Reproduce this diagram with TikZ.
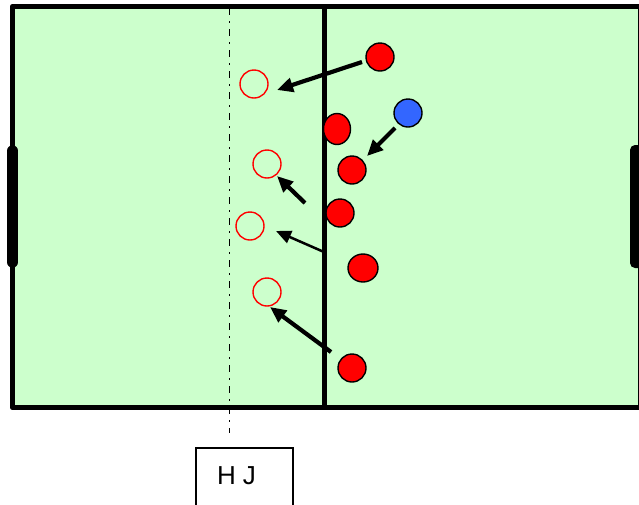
\documentclass[tikz,border=0pt]{standalone}
\usepackage{fontspec}
\setmainfont{Liberation Sans}
\usetikzlibrary{arrows.meta,shapes.geometric}
\definecolor{fieldgreen}{HTML}{CCFFCC}
\definecolor{pred}{HTML}{FF0000}
\definecolor{pblue}{HTML}{3366FF}
\tikzset{
  player/.style={circle, draw=black, line width=1.4pt, fill=pred, minimum size=28pt, inner sep=0pt},
  blueplayer/.style={player, fill=pblue},
  ghost/.style={circle, draw=pred, line width=1.4pt, minimum size=28pt, inner sep=0pt},
  move/.style={line width=4.2pt, -{Triangle[length=16pt,width=14pt]}},
  thinmove/.style={line width=2.5pt, -{Triangle[length=15pt,width=13pt]}},
  borderline/.style={line width=5.7pt},
}
\begin{document}
\begin{tikzpicture}[x=1pt,y=-1pt]
\useasboundingbox (0,0) rectangle (639,504);
\clip (0,0) rectangle (639,504);
% field
\draw[borderline, fill=fieldgreen, line join=round] (12.5,6.5) rectangle (641,407.5);
% goals
\draw[line width=11.5pt, line cap=round] (12.5,151) -- (12.5,262);
\fill[rounded corners=5pt] (630,145) rectangle (660,268);
% dash-dot line
\draw[line width=1.5pt, dash pattern=on 7pt off 6pt on 1.5pt off 6.5pt] (229.5,8) -- (229.5,433);
% midline
\draw[borderline] (324.5,6.5) -- (324.5,407.5);
% HJ box
\node[draw, line width=1.3pt, minimum width=97pt, minimum height=62pt, inner sep=0pt] (hj) at (244.5,479) {};
\node[inner sep=0pt, font=\fontsize{26}{30}\selectfont] (hjtext) at (236.5,476) {H J};
% open circles
\node[ghost] (o1) at (254,84) {};
\node[ghost] (o2) at (267,164) {};
\node[ghost] (o3) at (250,226) {};
\node[ghost] (o4) at (267,292) {};
% players
\node[player] (r1) at (380,57) {};
\node[blueplayer] (b1) at (408,113) {};
\node[player, ellipse, minimum width=27pt, minimum height=31pt] (r2) at (337,129) {};
\node[player] (r3) at (352,170) {};
\node[player] (r4) at (340,213) {};
\node[player, ellipse, minimum width=30pt, minimum height=28pt] (r5) at (363,268) {};
\node[player] (r6) at (352,368) {};
% arrow ends
\coordinate (a1s) at (362,62);
\coordinate (a1e) at (277,90);
\coordinate (a2s) at (395,128);
\coordinate (a2e) at (367,156);
\coordinate (a3s) at (305,203);
\coordinate (a3e) at (277,176);
\coordinate (a4s) at (324,252);
\coordinate (a4e) at (276,231);
\coordinate (a5s) at (331,352);
\coordinate (a5e) at (270,307);
\draw[move] (a1s) -- (a1e);
\draw[move] (a2s) -- (a2e);
\draw[move] (a3s) -- (a3e);
\draw[thinmove] (a4s) -- (a4e);
\draw[move] (a5s) -- (a5e);
\end{tikzpicture}
\end{document}
